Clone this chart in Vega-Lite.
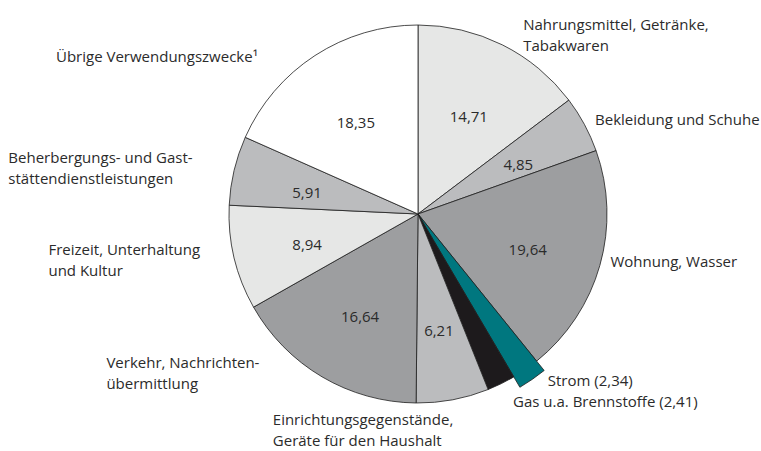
{
  "$schema": "https://vega.github.io/schema/vega-lite/v6.json",
  "width": 686,
  "height": 428,
  "autosize": {"type": "none"},
  "padding": {"left": 75, "top": 0, "right": 0, "bottom": 23},
  "background": "#ffffff",
  "config": {
    "view": {"stroke": null},
    "locale": {"number": {"decimal": ",", "thousands": ".", "grouping": [3], "currency": ["", " €"]}},
    "text": {"font": "Open Sans", "fontSize": 15, "color": "#2b2b2b"}
  },
  "data": {
    "values": [
      {"order": 0, "key": "Nahrungsmittel", "label": "Nahrungsmittel, Getränke,\nTabakwaren", "value": 14.71},
      {"order": 1, "key": "Bekleidung", "label": "Bekleidung und Schuhe", "value": 4.85},
      {"order": 2, "key": "Wohnung", "label": "Wohnung, Wasser", "value": 19.64},
      {"order": 3, "key": "Strom", "label": "Strom (2,34)", "value": 2.34},
      {"order": 4, "key": "Gas", "label": "Gas u.a. Brennstoffe (2,41)", "value": 2.41},
      {"order": 5, "key": "Einrichtung", "label": "Einrichtungsgegenstände,\nGeräte für den Haushalt", "value": 6.21},
      {"order": 6, "key": "Verkehr", "label": "Verkehr, Nachrichten-\nübermittlung", "value": 16.64},
      {"order": 7, "key": "Freizeit", "label": "Freizeit, Unterhaltung\nund Kultur", "value": 8.94},
      {"order": 8, "key": "Beherbergung", "label": "Beherbergungs- und Gast-\nstättendienstleistungen", "value": 5.91},
      {"order": 9, "key": "Übrige", "label": "Übrige Verwendungszwecke¹", "value": 18.35}
    ]
  },
  "encoding": {
    "theta": {"field": "value", "type": "quantitative", "stack": true},
    "order": {"field": "order", "type": "quantitative"}
  },
  "layer": [
    {
      "mark": {
        "type": "arc",
        "radius": {"expr": "datum.order == 3 ? 201 : 189"},
        "stroke": "#1e1e1e",
        "strokeWidth": 0.8
      },
      "encoding": {
        "color": {
          "field": "key",
          "type": "nominal",
          "legend": null,
          "scale": {
            "domain": ["Nahrungsmittel", "Bekleidung", "Wohnung", "Strom", "Gas", "Einrichtung", "Verkehr", "Freizeit", "Beherbergung", "Übrige"],
            "range": ["#e6e7e6", "#bbbcbe", "#9d9ea0", "#00777f", "#1d1a1c", "#bbbcbe", "#9d9ea0", "#e6e7e6", "#bbbcbe", "#ffffff"]
          }
        }
      }
    },
    {
      "mark": {"type": "text", "radius": 114, "dy": 5, "align": "center", "baseline": "middle"},
      "encoding": {
        "text": {
          "condition": {"test": "datum.order == 3 || datum.order == 4", "value": ""},
          "field": "value",
          "type": "quantitative",
          "format": ".2f"
        }
      }
    },
    {
      "mark": {
        "type": "text",
        "radius": 200,
        "align": "left",
        "baseline": "alphabetic",
        "lineBreak": "\n",
        "lineHeight": 21,
        "dx": {"expr": "[16, 1, 0, 16, 7, -182, -210, -175, -215, -253][datum.order]"},
        "dy": {"expr": "[-5, 6, -1, 8, 13, 14, -18, -5, -5, 16][datum.order]"}
      },
      "encoding": {
        "text": {"field": "label", "type": "nominal"}
      }
    }
  ]
}
